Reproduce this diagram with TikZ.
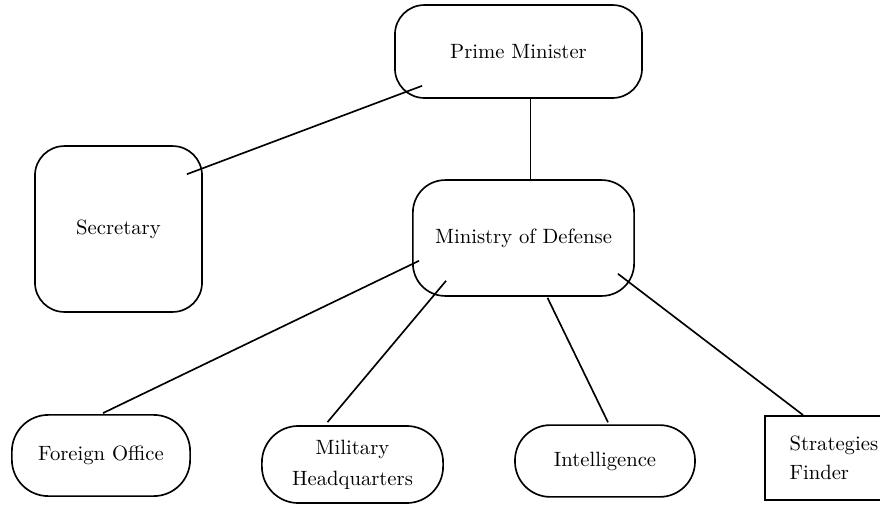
\documentclass[tikz,border=0pt]{standalone}
\usepackage{amsmath}
\usepackage{tikz}
\usetikzlibrary{calc,positioning}

\tikzset{office/.style={draw, line width=0.8pt, align=center, inner sep=2pt}}

\begin{document}
\begin{tikzpicture}[x=0.017cm, y=-0.017cm, line width=0.8pt]
\path[use as bounding box, clip] (0,0) rectangle (880,511);
\node[office, rounded corners=0.5cm, minimum width=4.2cm, minimum height=1.58cm] (pm) at (518.5,51.5) {Prime Minister};
\node[office, rounded corners=0.5cm, minimum width=2.84cm, minimum height=2.82cm] (sec) at (118.5,229) {Secretary};
\node[office, rounded corners=0.55cm, minimum width=3.76cm, minimum height=1.97cm] (mod) at (523.5,238) {Ministry of Defense};
\node[office, rounded corners=0.62cm, minimum width=3.03cm, minimum height=1.38cm] (fo) at (101,455.5) {Foreign Office};
\node[office, rounded corners=0.62cm, minimum width=3.08cm, minimum height=1.31cm] (mh) at (352.5,464.5) {Military\\[3pt] Headquarters};
\node[office, rounded corners=0.6cm, minimum width=3.06cm, minimum height=1.22cm] (int) at (605,461) {Intelligence};
\node[office, anchor=north west, align=left, text width=1.56cm, inner xsep=0.41cm, minimum width=2.4cm, minimum height=1.43cm] (sf) at (764,415) {Strategies\\[2pt] Finder};
% connectors
\draw ($(pm.south west)+(28,-13)$) -- ($(sec.north east)+(-16,29)$);
\draw ($(pm.south)+(12,0)$) -- ($(mod.north)+(7,0)$);
\draw ($(mod.south west)+(7,-36)$) -- ($(fo.north)+(2,-1)$);
\draw ($(mod.south west)+(34,-16)$) -- ($(mh.north)+(-25,-3)$);
\draw ($(mod.south)+(24,1)$) -- ($(int.north)+(3,-2)$);
\draw ($(mod.south east)+(-17,-23)$) -- ($(sf.north west)+(39,0)$);
\end{tikzpicture}
\end{document}
